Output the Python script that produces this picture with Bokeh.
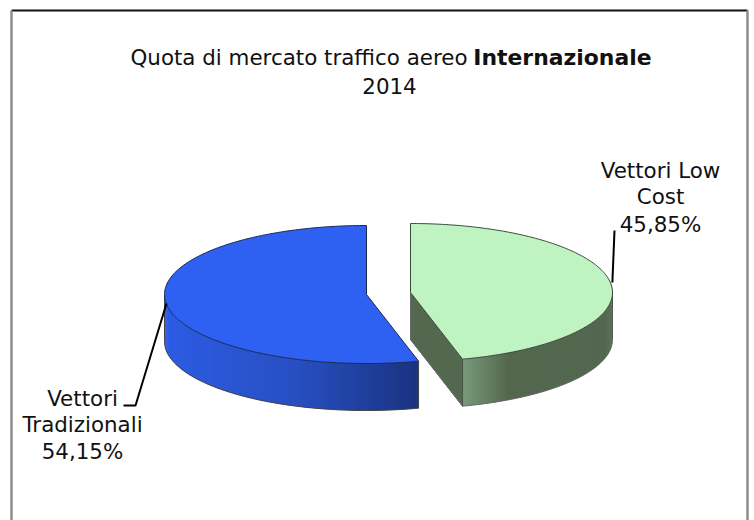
import numpy as np
from bokeh.plotting import figure
from bokeh.models import Range1d
from bokeh.core.properties import value
from bokeh.embed import file_html
from bokeh.resources import INLINE

# ---- data
categories = ["Vettori Tradizionali", "Vettori Low Cost"]
shares = [54.15, 45.85]
label_lines = [["Vettori", "Tradizionali"], ["Vettori Low", "Cost"]]
title_plain = "Quota di mercato traffico aereo"
title_bold = "Internazionale"
title_year = "2014"

# ---- layout (page pixels)
W, H = 754, 520
OFF = 0
RX, RY, DEPTH = 202, 69, 47
C_BLUE = (366, 294)
C_GREEN = (410, 292)
FONT = "DejaVu Sans"

p = figure(width=W, height=H, output_backend="svg", toolbar_location=None,
           x_range=Range1d(OFF, OFF + W), y_range=Range1d(OFF + H, OFF),
           min_border=0, outline_line_color=None, background_fill_color="white")
p.axis.visible = False
p.grid.visible = False


def pt(c, th):
    return c[0] + RX * np.sin(th), c[1] - RY * np.cos(th)


def hexmix(a, b, t):
    a = np.array(a, float); b = np.array(b, float)
    c = a + (b - a) * t
    return "#%02x%02x%02x" % tuple(int(round(v)) for v in c)


def wall(c, t0, t1, colorfn, n=110):
    ths = np.linspace(t0, t1, n + 1)
    xs, ys, cols = [], [], []
    for i in range(n):
        a, b = ths[i], ths[min(i + 2, n)]
        xa, ya = pt(c, a)
        xb, yb = pt(c, b)
        xs.append([xa, xb, xb, xa])
        ys.append([ya, yb, yb + DEPTH, ya + DEPTH])
        cols.append(colorfn(pt(c, (ths[i] + ths[i + 1]) / 2)[0]))
    p.patches(xs, ys, fill_color=cols, line_color=None)


def wall_edge(c, t0, t1):
    ths = np.linspace(t0, t1, 120)
    x, y = pt(c, ths)
    return list(x), list(y + DEPTH)


total = sum(shares)
sweep_blue = 2 * np.pi * shares[0] / total
sweep_green = 2 * np.pi * shares[1] / total

# --- green slice (clockwise from the top)
g_end = sweep_green
gx_end, gy_end = pt(C_GREEN, g_end)
p.patch([C_GREEN[0], gx_end, gx_end, C_GREEN[0]],
        [C_GREEN[1], gy_end, gy_end + DEPTH, C_GREEN[1] + DEPTH],
        fill_color="#53684f", line_color="#53684f", line_width=1)


def green_col(x):
    t = min(1.0, max(0.0, (x - gx_end) / 45))
    return hexmix((0x7a, 0x9a, 0x7c), (0x53, 0x68, 0x4f), t)


wall(C_GREEN, g_end, np.pi / 2, green_col)
ex, ey = wall_edge(C_GREEN, np.pi / 2, g_end)
p.line(ex + [gx_end, C_GREEN[0], C_GREEN[0]],
       ey + [gy_end + DEPTH, C_GREEN[1] + DEPTH, C_GREEN[1]], line_color="#6a6a6a", line_width=1)
p.line([C_GREEN[0] + RX] * 2, [C_GREEN[1], C_GREEN[1] + DEPTH], line_color="#555555", line_width=1)
p.line([gx_end] * 2, [gy_end, gy_end + DEPTH], line_color="#3c4a38", line_width=0.8)

ths = np.linspace(0, g_end, 200)
tx, ty = pt(C_GREEN, ths)
p.patch([C_GREEN[0]] + list(tx), [C_GREEN[1]] + list(ty),
        fill_color="#bff3c2", line_color="#3a4a3a", line_width=1)

# --- blue slice (counter-clockwise from the top)
b_end = -sweep_blue
bx_end, by_end = pt(C_BLUE, b_end)
blue_left = C_BLUE[0] - RX


def blue_col(x):
    t = (x - blue_left) / (bx_end - blue_left)
    if t < 0.5:
        return hexmix((0x2c, 0x5c, 0xe4), (0x28, 0x50, 0xc4), t / 0.5)
    return hexmix((0x28, 0x50, 0xc4), (0x19, 0x33, 0x80), (t - 0.5) / 0.5)


wall(C_BLUE, b_end, -np.pi / 2, blue_col)
ex, ey = wall_edge(C_BLUE, -np.pi / 2, b_end)
p.line(ex + [bx_end], ey + [by_end], line_color="#444444", line_width=1)
p.line([blue_left] * 2, [C_BLUE[1], C_BLUE[1] + DEPTH], line_color="#444444", line_width=1)

ths = np.linspace(0, b_end, 200)
tx, ty = pt(C_BLUE, ths)
p.patch([C_BLUE[0]] + list(tx), [C_BLUE[1]] + list(ty),
        fill_color="#2e60f2", line_color="#1a2a55", line_width=1)

# --- leader lines
p.line([pt(C_GREEN, np.radians(88))[0], 614], [282, 230], line_color="black", line_width=2)
p.line([166, 135, 123], [303, 405, 405], line_color="black", line_width=2)

# --- frame
p.segment([11, 11, 747], [10, 10, 10], [747, 11, 747], [10, OFF + H, OFF + H],
          line_color=["#111111", "#8c8c8c", "#8c8c8c"], line_width=[2, 2.5, 2.5])

# --- texts
TS = "21.4px"


def txt(x, y, s, align="center", style="normal", size=TS):
    p.text([x], [y], text=[s], text_font=value(FONT), text_font_size=size, text_color="#111111",
           text_align=align, text_baseline="middle", text_font_style=style)


def pct(v):
    return f"{v:.2f}".replace(".", ",") + "%"


txt(130, 57, title_plain, "left")
txt(651, 57, title_bold, "right", "bold", "21.9px")
txt(389, 85, title_year)

txt(660, 170, label_lines[1][0])
txt(660, 196, label_lines[1][1])
txt(660, 224, pct(shares[1]))

txt(82, 398, label_lines[0][0])
txt(82, 424, label_lines[0][1])
txt(82, 451, pct(shares[0]))

open("out.html", "w").write(file_html(p, INLINE))
